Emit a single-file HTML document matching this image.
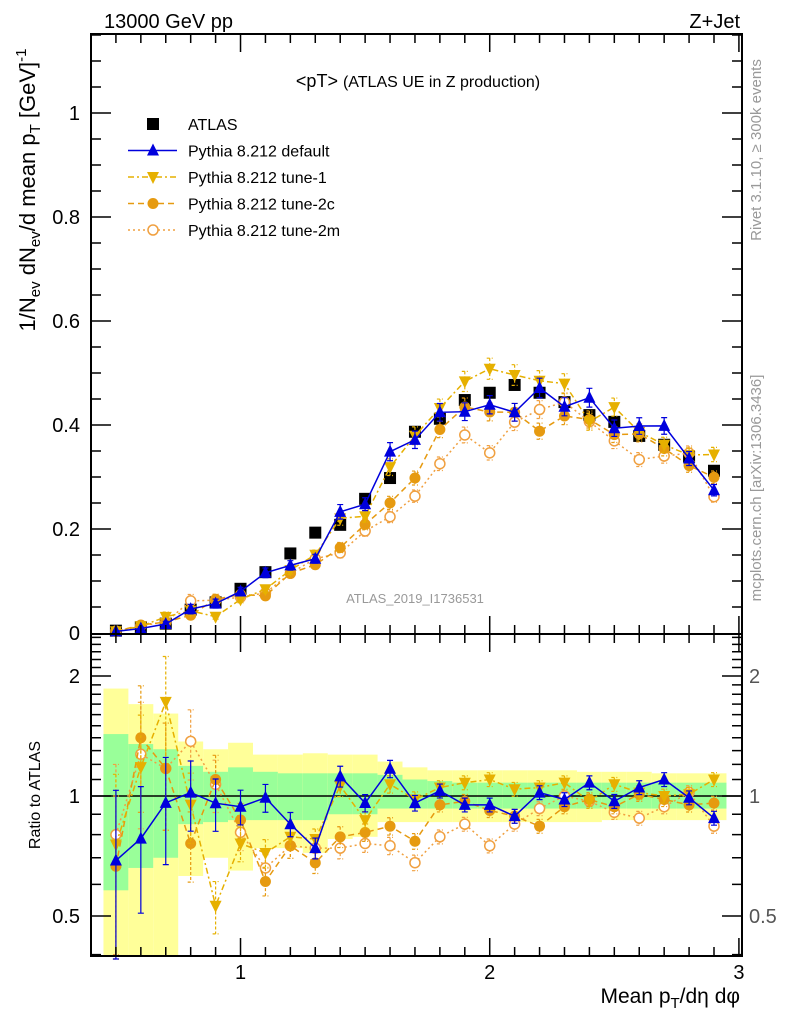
<!DOCTYPE html>
<html><head><meta charset="utf-8"><style>
html,body{margin:0;padding:0;background:#fff;}
svg{display:block;font-family:"Liberation Sans",sans-serif;}
</style></head>
<body>
<svg id="chart" width="786" height="1024" viewBox="0 0 786 1024" xmlns="http://www.w3.org/2000/svg">
<text x="104" y="28" font-size="20">13000 GeV pp</text>
<text x="740" y="28" font-size="20" text-anchor="end">Z+Jet</text>
<text x="418" y="87" font-size="18" text-anchor="middle">&lt;pT&gt; <tspan font-size="16">(ATLAS UE in Z production)</tspan></text>
<text transform="translate(761,150) rotate(-90)" font-size="15" fill="#999" text-anchor="middle">Rivet 3.1.10, ≥ 300k events</text>
<text transform="translate(761,488) rotate(-90)" font-size="15" fill="#999" text-anchor="middle">mcplots.cern.ch [arXiv:1306.3436]</text>
<text x="415" y="603" font-size="13" fill="#999" text-anchor="middle">ATLAS_2019_I1736531</text>
<text transform="translate(35,190) rotate(-90)" font-size="22" text-anchor="middle">1/N<tspan font-size="15" dy="5">ev</tspan><tspan dy="-5"> dN</tspan><tspan font-size="15" dy="5">ev</tspan><tspan dy="-5">/d mean p</tspan><tspan font-size="15" dy="5">T</tspan><tspan dy="-5"> [GeV]</tspan><tspan font-size="15" dy="-9">-1</tspan></text>
<text transform="translate(40,795) rotate(-90)" font-size="16" text-anchor="middle">Ratio to ATLAS</text>
<text x="740" y="1003" font-size="21" text-anchor="end">Mean p<tspan font-size="15" dy="5">T</tspan><tspan dy="-5">/dη dφ</tspan></text>
<g id="bands"></g><g id="main"></g><g id="ratio"></g><g id="axes"></g><g id="legend"></g>
</svg>
<script>
const xBins = [0.5,0.6,0.7,0.8,0.9,1.0,1.1,1.2,1.3,1.4,1.5,1.6,1.7,1.8,1.9,2.0,2.1,2.2,2.3,2.4,2.5,2.6,2.7,2.8,2.9];
const atlas = [0.0045,0.011,0.018,0.045,0.059,0.085,0.117,0.153,0.193,0.208,0.258,0.298,0.387,0.412,0.448,0.462,0.477,0.462,0.444,0.419,0.406,0.379,0.362,0.339,0.312];
const pyDefault = [0.0031,0.0086,0.0173,0.0459,0.0566,0.0799,0.1158,0.130,0.1428,0.233,0.2477,0.3487,0.3715,0.4244,0.4256,0.4389,0.4245,0.4712,0.4351,0.4525,0.3938,0.398,0.3982,0.3356,0.2746];
const pyTune1 = [0.0034,0.013,0.031,0.0428,0.0313,0.0646,0.0842,0.1209,0.1505,0.2205,0.2245,0.3189,0.3793,0.4326,0.4838,0.5082,0.4961,0.4851,0.4795,0.4064,0.4344,0.3866,0.362,0.3424,0.3432];
const pyTune2c = [0.003,0.0154,0.0211,0.0342,0.0649,0.074,0.0714,0.1148,0.1312,0.1643,0.209,0.2503,0.298,0.3914,0.4346,0.425,0.4245,0.3881,0.4174,0.4106,0.3816,0.3828,0.3548,0.322,0.2995];
const pyTune2m = [0.0036,0.014,0.0211,0.0617,0.0631,0.0689,0.0772,0.1148,0.1428,0.1539,0.1961,0.2235,0.2632,0.3255,0.3808,0.3465,0.4055,0.4297,0.444,0.4064,0.3695,0.3335,0.3403,0.3458,0.2621];
const mcRelErr = [0.5,0.35,0.3,0.2,0.15,0.1,0.08,0.07,0.06,0.06,0.05,0.05,0.045,0.04,0.04,0.04,0.04,0.04,0.04,0.04,0.04,0.04,0.04,0.04,0.04];
const greenHi = [1.43,1.35,1.31,1.19,1.15,1.18,1.15,1.14,1.14,1.14,1.14,1.13,1.1,1.09,1.08,1.08,1.08,1.08,1.08,1.08,1.08,1.08,1.08,1.08,1.08];
const greenLo = [0.58,0.66,0.70,0.85,0.86,0.87,0.87,0.87,0.87,0.9,0.9,0.93,0.93,0.93,0.93,0.93,0.93,0.93,0.93,0.93,0.93,0.93,0.93,0.93,0.93];
const yellowHi = [1.86,1.7,1.61,1.37,1.31,1.36,1.27,1.27,1.28,1.27,1.27,1.22,1.18,1.16,1.16,1.16,1.16,1.16,1.16,1.15,1.15,1.15,1.14,1.14,1.14];
const yellowLo = [0.3,0.3,0.3,0.63,0.70,0.65,0.74,0.74,0.72,0.78,0.79,0.86,0.86,0.86,0.86,0.86,0.86,0.86,0.86,0.86,0.87,0.87,0.87,0.87,0.87];
const mainTicks = ["0","0.2","0.4","0.6","0.8","1"];
const mainTickVals = [0,0.2,0.4,0.6,0.8,1];
const ratioTickLabels = ["0.5","1","2"];
const ratioTickVals = [0.5,1,2];
const xTickLabels = ["1","2","3"];
const xTickVals = [1,2,3];

const NS="http://www.w3.org/2000/svg";
const L=91,R=742,T=34,MB=634,RB=956;
const X=v=>91+(v-0.4)*249.2;
const Y=v=>633-v*520;
const RY=v=>796-120*Math.log2(v);
function mk(parent,tag,attrs){const e=document.createElementNS(NS,tag);for(const k in attrs)e.setAttribute(k,attrs[k]);document.getElementById(parent).appendChild(e);return e;}
const clamp=(v,a,b)=>Math.max(a,Math.min(b,v));

xBins.forEach((x,i)=>{
  const x0=X(x-0.05),x1=X(x+0.05);
  const yh=clamp(RY(yellowHi[i]),636,955),yl=clamp(RY(yellowLo[i]),636,955);
  let e=mk('bands','rect',{x:x0,y:yh,width:x1-x0,height:yl-yh,fill:'#ffff99'});
  
  
  const gh=clamp(RY(greenHi[i]),636,955),gl=clamp(RY(greenLo[i]),636,955);
  e=mk('bands','rect',{x:x0,y:gh,width:x1-x0,height:gl-gh,fill:'#99ff99'});
  
  
});
let ln=mk('bands','line',{x1:L,x2:R,y1:RY(1),y2:RY(1),stroke:'#000','stroke-width':1.5});



function marker(g,type,cx,cy,color,name){
  let e;
  if(type==='sq') e=mk(g,'rect',{x:cx-6,y:cy-6,width:12,height:12,fill:'#000'});
  else if(type==='up') e=mk(g,'polygon',{points:`${cx},${cy-7} ${cx-6},${cy+5} ${cx+6},${cy+5}`,fill:color});
  else if(type==='down') e=mk(g,'polygon',{points:`${cx},${cy+7} ${cx-6},${cy-5} ${cx+6},${cy-5}`,fill:color});
  else if(type==='dot') e=mk(g,'circle',{cx,cy,r:5.5,fill:color});
  else e=mk(g,'circle',{cx,cy,r:5,fill:'#fff',stroke:color,'stroke-width':1.5});
  
  
}
const series=[
 {vals:pyDefault,color:'#0000dd',type:'up',dash:'',name:'default'},
 {vals:pyTune1,color:'#e6b000',type:'down',dash:'6,3,2,3',name:'tune-1'},
 {vals:pyTune2c,color:'#e69a10',type:'dot',dash:'6,4',name:'tune-2c'},
 {vals:pyTune2m,color:'#f0a040',type:'open',dash:'2,3',name:'tune-2m'}
];
function drawSeries(g,s,ratio){
  const f=ratio?(v,i)=>RY(clamp(v/atlas[i],0.39,2.55)):(v)=>Y(v);
  const pts=s.vals.map((v,i)=>[X(xBins[i]),f(v,i)]);
  let p=mk(g,'polyline',{points:pts.map(q=>q.join(',')).join(' '),fill:'none',stroke:s.color,'stroke-width':1.5,'stroke-dasharray':s.dash});
  
  
  s.vals.forEach((v,i)=>{
    const x=X(xBins[i]);
    const hi=v*(1+mcRelErr[i]),lo=Math.max(v*(1-mcRelErr[i]),1e-4);
    const y1=ratio?RY(clamp(hi/atlas[i],0.39,2.55)):Y(hi), y2=ratio?RY(clamp(lo/atlas[i],0.39,2.55)):Y(lo);
    let e=mk(g,'path',{d:`M${x},${y1}V${y2}M${x-3},${y1}h6M${x-3},${y2}h6`,stroke:s.color,'stroke-width':1.2,fill:'none','stroke-dasharray':s.dash?'3,2':''});
    
    
  });
  pts.forEach(q=>marker(g,s.type,q[0],q[1],s.color,s.name+'-point'));
}
series.slice().reverse().forEach(s=>drawSeries('ratio',s,true));
atlas.forEach((v,i)=>marker('main','sq',X(xBins[i]),Y(v),'#000','atlas-point'));
series.slice().reverse().forEach(s=>drawSeries('main',s,false));

function ax(tag,attrs,name){const e=mk('axes',tag,attrs);return e;}
ax('rect',{x:L,y:T,width:R-L,height:MB-T,fill:'none',stroke:'#000','stroke-width':2},'main-frame');
ax('rect',{x:L,y:MB,width:R-L,height:RB-MB,fill:'none',stroke:'#000','stroke-width':2},'ratio-frame');
let d='';
for(let k=5;k<=30;k++){const v=k/10,x=X(v);if(x>R)break;const big=(k%10===0);const len=big?18:9;
 d+=`M${x},${MB}v-${len}M${x},${T}v${len}M${x},${RB}v-${len}M${x},${MB}v${len}`;}
for(let k=1;k<=23;k++){const v=k*0.05,y=Y(v);const big=(k%4===0);const len=big?20:10;
 d+=`M${L},${y}h${len}M${R},${y}h-${len}`;}
const rminor=[0.4,0.5,0.6,0.7,0.8,0.9,1,1.1,1.2,1.3,1.4,1.5,1.6,1.7,1.8,1.9,2,2.1,2.2,2.3,2.4,2.5];
rminor.forEach(v=>{const y=RY(v);if(y<636||y>955)return;const big=ratioTickVals.includes(v);const len=big?20:10;
 d+=`M${L},${y}h${len}M${R},${y}h-${len}`;});
ax('path',{d,stroke:'#000','stroke-width':1.5,fill:'none'},'axis-ticks');
mainTickVals.forEach((v,i)=>{const t=ax('text',{x:80,y:Y(v)+7,'font-size':20,'text-anchor':'end'},'y-tick-label');t.textContent=mainTicks[i];});
ratioTickVals.forEach((v,i)=>{
 let t=ax('text',{x:80,y:RY(v)+7,'font-size':20,'text-anchor':'end'},'ratio-tick-label');t.textContent=ratioTickLabels[i];
 t=ax('text',{x:749,y:RY(v)+7,'font-size':20,'fill':'#555'},'ratio-tick-label-right');t.textContent=ratioTickLabels[i];});
xTickVals.forEach((v,i)=>{const t=ax('text',{x:X(v),y:979,'font-size':20,'text-anchor':'middle'},'x-tick-label');t.textContent=xTickLabels[i];});

const legNames=['ATLAS','Pythia 8.212 default','Pythia 8.212 tune-1','Pythia 8.212 tune-2c','Pythia 8.212 tune-2m'];
legNames.forEach((n,i)=>{
 const y=124+i*26.5;
 if(i===0){marker('legend','sq',153,y,'#000','legend-atlas-marker');}
 else{const s=series[i-1];
  const e=mk('legend','line',{x1:128,x2:177,y1:y,y2:y,stroke:s.color,'stroke-width':1.5,'stroke-dasharray':s.dash});
  
  
  marker('legend',s.type,153,y,s.color,'legend-marker');}
 const t=mk('legend','text',{x:188,y:y+6,'font-size':16});
 
 
 t.textContent=n;
});
</script>
</body></html>
